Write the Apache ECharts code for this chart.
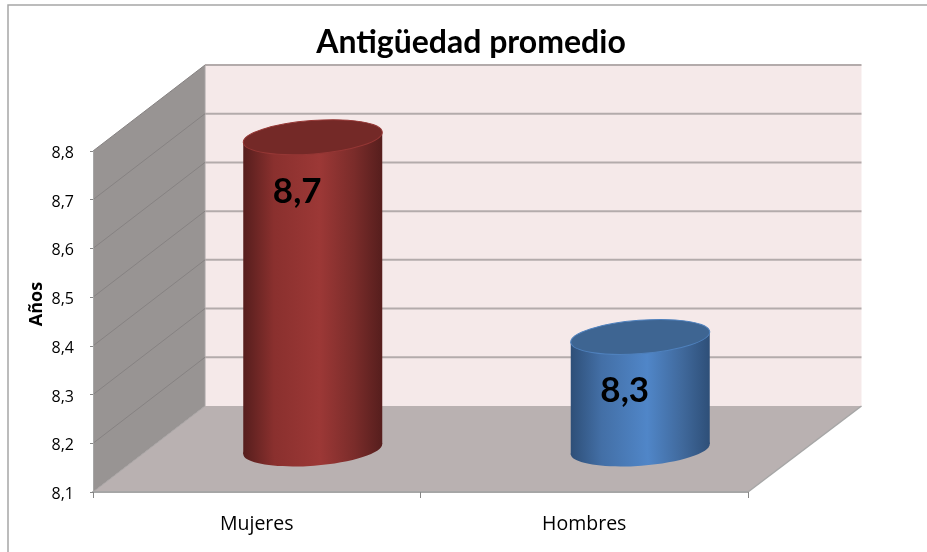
<!DOCTYPE html>
<html><head><meta charset="utf-8">
<style>html,body{margin:0;padding:0;background:#fff}#c{width:927px;height:552px}</style>
<script src="https://cdn.jsdelivr.net/npm/echarts@6/dist/echarts.min.js"></script>
</head><body><div id="c"></div>
<script>
const categories = ['Mujeres', 'Hombres'];
const values = [8.74, 8.33];
const yMin = 8.1, yMax = 8.8, yStep = 0.1;
const gridValues = [8.2, 8.3, 8.4, 8.5, 8.6, 8.7, 8.8];
const titleText = 'Antigüedad promedio';
const yName = 'Años';

const FONT = 'Lato';
const DEPTH = [112, -86];
const RIGHT_DX = 113.5;
const R = {a: 69.7, b: 16.7, rot: 4.37 * Math.PI / 180, sx: 69.5, sy: 5};
const palettes = [
  {stops: ['#561e1d', '#8a302e', '#9c3836', '#7a2c2a', '#561e1d'], top: '#742927', rim: '#953735'},
  {stops: ['#2e4f78', '#436fa6', '#5086c8', '#40699c', '#2e4f78'], top: '#3e6592', rim: '#4f81bd'}
];
const fmt = v => v.toFixed(1).replace('.', ',');

const chart = echarts.init(document.getElementById('c'), null, {renderer: 'canvas'});

function renderWalls(params, api) {
  const c = params.coordSys;
  const x0 = c.x, x1 = c.x + c.width, yb = c.y + c.height, yt = c.y;
  const [dx, dy] = DEPTH;
  return {type: 'group', children: [
    {type: 'polygon', shape: {points: [[x0 + dx, yt + dy], [x1 + RIGHT_DX, yt + dy], [x1 + RIGHT_DX, yb + dy], [x0 + dx, yb + dy]]},
      style: {fill: '#f5e9e9'}},
    {type: 'polygon', shape: {points: [[x0, yt], [x0 + dx, yt + dy], [x0 + dx, yb + dy], [x0, yb]]},
      style: {fill: '#989493'}},
    {type: 'polygon', shape: {points: [[x0, yb], [x1, yb], [x1 + RIGHT_DX, yb + dy], [x0 + dx, yb + dy]]},
      style: {fill: '#b9b1b1'}},
    {type: 'polyline', shape: {points: [[x0, yb], [x0 + dx, yb + dy], [x0 + dx, yt + dy]]},
      style: {stroke: '#a8a4a4', lineWidth: 1, fill: 'none'}},
    {type: 'polyline', shape: {points: [[x1, yb], [x1 + RIGHT_DX, yb + dy]]},
      style: {stroke: '#a6a6a6', lineWidth: 1.5, fill: 'none'}}
  ]};
}

function renderGrid(params, api) {
  const p = api.coord([0, api.value(0)]);
  const c = params.coordSys;
  const y = p[1];
  const [dx, dy] = DEPTH;
  return {type: 'group', children: [
    {type: 'line', shape: {x1: c.x, y1: y, x2: c.x + dx, y2: y + dy}, style: {stroke: '#868282', lineWidth: 1}},
    {type: 'line', shape: {x1: c.x + dx, y1: y + dy, x2: c.x + c.width + RIGHT_DX, y2: y + dy}, style: {stroke: '#b3abab', lineWidth: 2}}
  ]};
}

function renderCyl(params, api) {
  const i = params.dataIndex;
  const pal = palettes[i];
  const top = api.coord([i, api.value(1)]);
  const bot = api.coord([i, yMin]);
  const cx = top[0] + DEPTH[0] / 2;
  const yT = top[1] + DEPTH[1] / 2;
  const yB = bot[1] + DEPTH[1] / 2;
  const grad = new echarts.graphic.LinearGradient(0, 0, 1, 0, [
    {offset: 0, color: pal.stops[0]}, {offset: 0.22, color: pal.stops[1]},
    {offset: 0.55, color: pal.stops[2]}, {offset: 0.8, color: pal.stops[3]},
    {offset: 1, color: pal.stops[4]}]);
  const ell = (y, style) => ({type: 'ellipse', x: cx, y: y, rotation: R.rot,
    shape: {cx: 0, cy: 0, rx: R.a, ry: R.b}, style});
  return {type: 'group', children: [
    ell(yB, {fill: grad}),
    {type: 'polygon', shape: {points: [[cx - R.sx, yT + R.sy], [cx + R.sx, yT - R.sy], [cx + R.sx, yB - R.sy], [cx - R.sx, yB + R.sy]]},
      style: {fill: grad}},
    ell(yT, {fill: pal.top, stroke: pal.rim, lineWidth: 1}),
    {type: 'text', x: cx - 15.5, y: yT + 54, style: {text: fmt(api.value(1)), fill: '#000',
      font: 'bold 35px ' + FONT, align: 'center', verticalAlign: 'middle'}}
  ]};
}

chart.setOption({
  animation: false,
  backgroundColor: '#fff',
  title: {text: titleText, left: 466, top: 22, textAlign: 'center',
    textStyle: {fontFamily: FONT, fontWeight: 'bold', fontSize: 32, color: '#000'}},
  grid: {left: 93, right: 179, top: 151, bottom: 60, containLabel: false},
  xAxis: {type: 'category', data: categories, boundaryGap: true,
    axisLine: {lineStyle: {color: '#a6a6a6', width: 2}}, axisTick: {show: true, length: 6, lineStyle: {color: '#868686'}},
    axisLabel: {fontFamily: 'Open Sans', fontSize: 19.5, color: '#000', margin: 22}, z: 5},
  yAxis: {type: 'value', min: yMin, max: yMax, interval: yStep,
    axisLine: {show: true, lineStyle: {color: '#a6a6a6'}}, axisTick: {show: true, length: 3, lineStyle: {color: '#868686'}},
    splitLine: {show: false},
    axisLabel: {color: '#000', margin: 19, formatter: v => '{a|' + fmt(v) + '}',
      rich: {a: {fontFamily: 'Open Sans', fontSize: 16, color: '#000', padding: [5, 0, 0, 0]}}}, z: 5},
  graphic: [
    {type: 'polyline', silent: true, shape: {points: [[8, 552], [8, 5], [927, 5]]}, style: {stroke: '#a6a6a6', lineWidth: 1.5, fill: 'none'}},
    {type: 'text', silent: true, x: 37, y: 304, rotation: Math.PI / 2, style: {text: yName, fill: '#000',
      font: 'bold 18px "Open Sans"', align: 'center', verticalAlign: 'middle'}}
  ],
  series: [
    {type: 'custom', name: 'walls', renderItem: renderWalls, data: [[0]], silent: true, z: 1, encode: {x: -1, y: -1}},
    {type: 'custom', name: 'grid', renderItem: renderGrid, data: gridValues.map(v => [v]), silent: true, z: 2, encode: {x: -1, y: 0}},
    {type: 'custom', name: 'Años', renderItem: renderCyl, data: values.map((v, i) => [i, v]), z: 3, encode: {x: 0, y: 1}}
  ]
});
</script></body></html>
